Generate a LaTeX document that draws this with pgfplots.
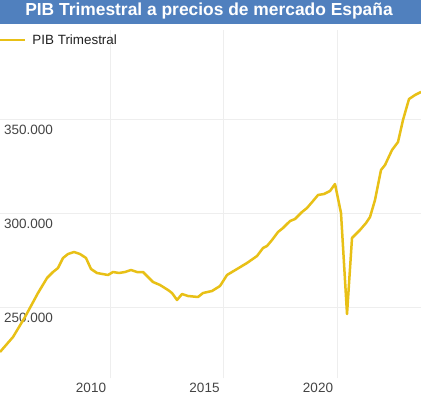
\documentclass[border=0pt]{standalone}
\usepackage{pgfplots}
\pgfplotsset{compat=1.18}
\usepackage{fontspec}
\setmainfont{Liberation Sans}
\definecolor{pibline}{RGB}{232,192,22}
\definecolor{band}{RGB}{80,128,190}
\definecolor{ticktext}{RGB}{68,68,68}
\definecolor{gridc}{RGB}{238,238,238}
\begin{document}
\begin{tikzpicture}
\fill[white] (0pt,-22pt) rectangle (421pt,378pt);
\begin{axis}[
  at={(0pt,0pt)}, anchor=south west,
  scale only axis, width=421pt, height=348pt,
  xmin=2005.154, xmax=2023.70,
  ymin=212238, ymax=397339,
  axis line style={draw=none},
  major tick length=0pt,
  xtick={2010,2015,2020},
  xticklabels={2010,2015,2020},
  ytick={250000,300000,350000},
  yticklabels={250.000,300.000,350.000},
  grid=major,
  major grid style={gridc, line width=0.8pt},
  scaled y ticks=false,
  xticklabel style={font=\fontsize{13.5}{14}\selectfont, text=ticktext, anchor=north, inner sep=0pt, yshift=-5pt, xshift=-19pt},
  yticklabel style={font=\fontsize{13.5}{14}\selectfont, text=ticktext, anchor=north west, inner sep=0pt, xshift=4pt, yshift=-6pt},
  legend style={at={(axis description cs:0,1)}, anchor=west, xshift=-3pt, yshift=-10pt, draw=none, fill=none, inner sep=0pt, outer sep=0pt,
    font=\fontsize{13.4}{14}\selectfont, text=black!87, nodes={inner sep=0pt}, column sep=6pt},
  legend image code/.code={\draw[#1] (0pt,0pt) -- (27pt,0pt);},
]
\addplot[pibline, line width=2.5pt, line join=round] coordinates {
(2005.154,226067) (2005.727,234046) (2006.256,244684) (2006.828,257449)
(2007.225,265428) (2007.489,268619) (2007.709,270747) (2007.930,276066)
(2008.150,278193) (2008.414,279257) (2008.678,278193) (2008.943,276066)
(2009.163,270215) (2009.427,268087) (2009.912,267024) (2010.132,268619)
(2010.396,268087) (2010.661,268619) (2010.925,269683) (2011.189,268619)
(2011.454,268619) (2011.894,263300) (2012.203,261705) (2012.555,259045)
(2012.731,257449) (2012.952,253726) (2013.172,256917) (2013.436,255854)
(2013.877,255322) (2014.097,257449) (2014.493,258513) (2014.846,261173)
(2015.154,267024) (2015.595,270215) (2016.035,273406) (2016.476,277130)
(2016.740,281385) (2016.916,282449) (2017.137,285640) (2017.401,289895)
(2017.621,292023) (2017.930,295746) (2018.150,296810) (2018.458,300533)
(2018.678,302661) (2018.943,306384) (2019.163,309576) (2019.427,310107)
(2019.692,311703) (2019.912,315426) (2020.176,300001) (2020.441,246279)
(2020.661,286704) (2021.013,290959) (2021.278,294682) (2021.454,297874)
(2021.674,306916) (2021.938,322873) (2022.115,325533) (2022.423,333511)
(2022.687,337766) (2022.907,349468) (2023.172,360638) (2023.436,362766)
(2023.700,364361)
};
\addlegendentry{PIB Trimestral}
\end{axis}
\fill[band] (0pt,354pt) rectangle (421pt,378pt);
\node[text=white, font=\bfseries\fontsize{17.4}{18}\selectfont, anchor=base] at (209pt,362pt) {PIB Trimestral a precios de mercado España};
\pgfresetboundingbox
\path[use as bounding box] (0pt,-22pt) rectangle (421pt,378pt);
\end{tikzpicture}
\end{document}
